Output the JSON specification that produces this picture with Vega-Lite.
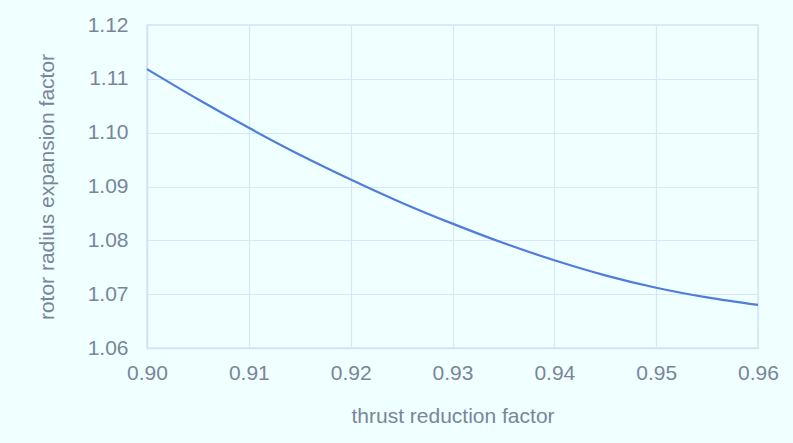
{
  "$schema": "https://vega.github.io/schema/vega-lite/v6.json",
  "width": 611,
  "height": 323,
  "autosize": "none",
  "padding": {"left": 147, "top": 25, "right": 35, "bottom": 95},
  "background": "#F0FFFF",
  "config": {
    "view": {"stroke": "#D3E2FA", "strokeWidth": 1.5},
    "font": "Liberation Sans",
    "axis": {
      "gridColor": "#D9E6FA",
      "gridWidth": 1.2,
      "domainColor": "#D3E2FA",
      "domainWidth": 1.5,
      "ticks": false,
      "labelColor": "#7A8599",
      "titleColor": "#7A8599",
      "labelFont": "Liberation Sans",
      "titleFont": "Liberation Sans",
      "labelFontSize": 21,
      "titleFontSize": 21,
      "titleFontWeight": "normal"
    }
  },
  "data": {
    "values": [
      {"thrust": 0.900, "expansion": 1.1118},
      {"thrust": 0.905, "expansion": 1.1062},
      {"thrust": 0.910, "expansion": 1.1009},
      {"thrust": 0.915, "expansion": 1.0959},
      {"thrust": 0.920, "expansion": 1.0913},
      {"thrust": 0.925, "expansion": 1.0870},
      {"thrust": 0.930, "expansion": 1.0831},
      {"thrust": 0.935, "expansion": 1.0795},
      {"thrust": 0.940, "expansion": 1.0763},
      {"thrust": 0.945, "expansion": 1.0735},
      {"thrust": 0.950, "expansion": 1.0712},
      {"thrust": 0.955, "expansion": 1.0694},
      {"thrust": 0.960, "expansion": 1.0680}
    ]
  },
  "mark": {"type": "line", "color": "#4E7DDB", "strokeWidth": 2.2, "interpolate": "monotone"},
  "encoding": {
    "x": {
      "field": "thrust",
      "type": "quantitative",
      "scale": {"domain": [0.9, 0.96], "nice": false, "zero": false},
      "axis": {"title": "thrust reduction factor", "values": [0.9, 0.91, 0.92, 0.93, 0.94, 0.95, 0.96], "format": ".2f", "labelFlush": false, "labelPadding": 14, "titlePadding": 22}
    },
    "y": {
      "field": "expansion",
      "type": "quantitative",
      "scale": {"domain": [1.06, 1.12], "nice": false, "zero": false},
      "axis": {"title": "rotor radius expansion factor", "values": [1.06, 1.07, 1.08, 1.09, 1.1, 1.11, 1.12], "format": ".2f", "labelFlush": false, "labelPadding": 19, "titlePadding": 30}
    }
  }
}
